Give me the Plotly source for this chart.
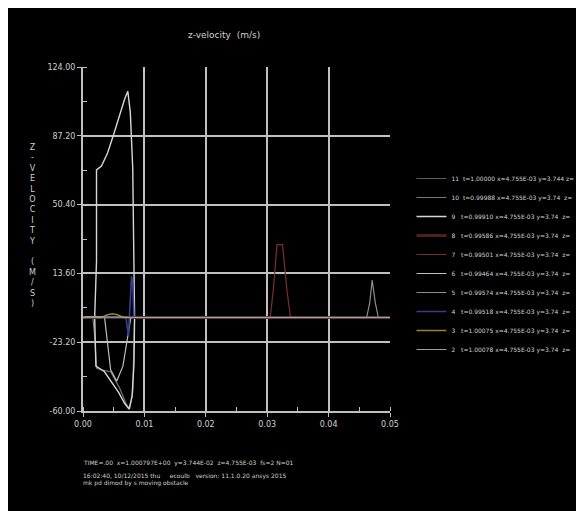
import plotly.graph_objects as go

# ---- axis ticks ----
x_tickvals = [0.00, 0.01, 0.02, 0.03, 0.04, 0.05]
x_ticktext = ["0.00", "0.01", "0.02", "0.03", "0.04", "0.05"]
y_tickvals = [-60.0, -23.2, 13.6, 50.4, 87.2, 124.0]
y_ticktext = ["-60.00", "-23.20", "13.60", "50.40", "87.20", "124.00"]

# ---- series data (time in s, z-velocity in m/s) ----
s11_x = [0.0, 0.0016, 0.0020, 0.05]
s11_y = [-10.0, -10.0, -10.5, -10.0]

s10_x = [0.0, 0.0016, 0.0019, 0.0022, 0.0030, 0.0045, 0.0060, 0.0070, 0.0076, 0.0081, 0.0084, 0.05]
s10_y = [-10.0, -10.0, -20.0, -37.0, -38.0, -39.0, -48.0, -56.0, -59.0, -50.0, -10.0, -10.0]

s9_x = [0.0, 0.0019, 0.0022, 0.0022, 0.0030, 0.0040, 0.0050, 0.0060, 0.0068, 0.0073, 0.0077, 0.0081, 0.0083, 0.0084,
        0.0083, 0.0080, 0.0075, 0.0068, 0.0058, 0.0045, 0.0035, 0.0026, 0.0021, 0.0019, 0.05]
s9_y = [-10.0, -10.0, 20.0, 69.0, 71.0, 78.0, 88.0, 99.0, 107.0, 111.0, 100.0, 70.0, 30.0, -10.0,
        -35.0, -52.0, -59.0, -56.0, -50.0, -44.0, -39.0, -37.0, -36.0, -10.0, -10.0]

s8_x = [0.0, 0.010, 0.020, 0.030, 0.040, 0.05]
s8_y = [-10.0, -10.0, -10.0, -10.0, -10.0, -10.0]

s7_x = [0.0, 0.0305, 0.0310, 0.0316, 0.0325, 0.0332, 0.0338, 0.05]
s7_y = [-10.0, -10.0, 5.0, 29.0, 29.0, 5.0, -10.0, -10.0]

s6_x = [0.0, 0.0005, 0.0035, 0.0045, 0.0055, 0.0065, 0.0072, 0.0078, 0.05]
s6_y = [-10.0, -9.5, -9.5, -38.0, -44.0, -36.0, -22.0, -10.0, -10.0]

s5_x = [0.0, 0.0462, 0.0467, 0.0471, 0.0476, 0.0481, 0.05]
s5_y = [-10.0, -10.0, -2.0, 10.0, -2.0, -10.0, -10.0]

s4_x = [0.0, 0.0070, 0.0074, 0.0077, 0.0079, 0.0081, 0.0083, 0.05]
s4_y = [-10.0, -10.0, -20.0, 0.0, 12.0, 8.0, -10.0, -10.0]

s3_x = [0.0, 0.0030, 0.0040, 0.0048, 0.0056, 0.0066, 0.05]
s3_y = [-10.0, -10.0, -8.5, -8.0, -8.5, -10.0, -10.0]

s2_x = [0.0, 0.0004, 0.0070, 0.0075, 0.05]
s2_y = [-10.0, -9.8, -9.8, -10.0, -10.0]

names = [
    "11  t=1.00000 x=4.755E-03 y=3.744 z=",
    "10  t=0.99988 x=4.755E-03 y=3.74  z=",
    "9   t=0.99910 x=4.755E-03 y=3.74  z=",
    "8   t=0.99586 x=4.755E-03 y=3.74  z=",
    "7   t=0.99501 x=4.755E-03 y=3.74  z=",
    "6   t=0.99464 x=4.755E-03 y=3.74  z=",
    "5   t=0.99574 x=4.755E-03 y=3.74  z=",
    "4   t=0.99518 x=4.755E-03 y=3.74  z=",
    "3   t=1.00075 x=4.755E-03 y=3.74  z=",
    "2   t=1.00078 x=4.755E-03 y=3.74  z=",
]
colors = ["#5c5c5c", "#767676", "#d6d6d6", "#4a2222", "#7a3030",
          "#bdbdbd", "#8c8c8c", "#34408f", "#9a8030", "#a0a0a0"]
widths = [1.2, 1.2, 1.4, 3.0, 1.2, 1.2, 1.2, 1.6, 1.6, 1.2]
series = [(s11_x, s11_y), (s10_x, s10_y), (s9_x, s9_y), (s8_x, s8_y), (s7_x, s7_y),
          (s6_x, s6_y), (s5_x, s5_y), (s4_x, s4_y), (s3_x, s3_y), (s2_x, s2_y)]

fig = go.Figure()
for i, ((xs, ys), nm, c, w) in enumerate(zip(series, names, colors, widths)):
    fig.add_trace(go.Scatter(x=xs, y=ys, mode="lines", name=nm,
                             line=dict(color=c, width=w)))

txt = "#d0d0d0"
axis_common = dict(showline=True, linecolor="#c0c0c0", linewidth=2,
                   showgrid=True, gridcolor="#c0c0c0", gridwidth=2,
                   zeroline=False, ticks="outside", ticklen=4, tickcolor="#c0c0c0",
                   tickfont=dict(family="DejaVu Sans", size=8, color=txt))

fig.update_layout(
    width=584, height=511,
    paper_bgcolor="black", plot_bgcolor="black",
    margin=dict(l=75, r=193, t=59, b=108),
    font=dict(family="DejaVu Sans", color=txt),
    title=dict(text="z-velocity  (m/s)", x=0.37, xanchor="center", y=0.947, yanchor="middle",
               font=dict(size=9, color=txt)),
    xaxis=dict(range=[0, 0.05], tickmode="array", tickvals=x_tickvals, ticktext=x_ticktext,
               minor=dict(ticks="inside", ticklen=4, dtick=0.005, tick0=0, tickcolor="#c0c0c0", showgrid=False),
               **axis_common),
    yaxis=dict(range=[-60, 124], tickmode="array", tickvals=y_tickvals, ticktext=y_ticktext,
               minor=dict(ticks="inside", ticklen=4, dtick=18.4, tick0=-60, tickcolor="#c0c0c0", showgrid=False),
               **axis_common),
    legend=dict(x=1.07, xanchor="left", y=0.718, yanchor="top",
                bgcolor="rgba(0,0,0,0)", font=dict(size=6, color=txt),
                tracegroupgap=0, itemwidth=30),
    showlegend=True,
)

ylabel = "<br>".join(list("Z-VELOCITY") + [" "] + list("(M/S)"))
fig.add_annotation(text=ylabel, xref="paper", yref="paper", x=-0.165, y=0.54,
                   xanchor="center", yanchor="middle", showarrow=False,
                   font=dict(size=8, color=txt))

footer = [
    "TIME=.00  x=1.000797E+00  y=3.744E-02  z=4.755E-03  fs=2 N=01",
    "16:02:40, 10/12/2015 thu     ecoulb   version: 11.1.0.20 ansys 2015",
    "mk pd dimod by s moving obstacle",
]
footer_y = [-0.151, -0.188, -0.21]
for line, fy in zip(footer, footer_y):
    fig.add_annotation(text=line, xref="paper", yref="paper", x=-0.006, y=fy,
                       xanchor="left", yanchor="middle", showarrow=False,
                       font=dict(size=6, color=txt))

fig.write_html("out.html")
